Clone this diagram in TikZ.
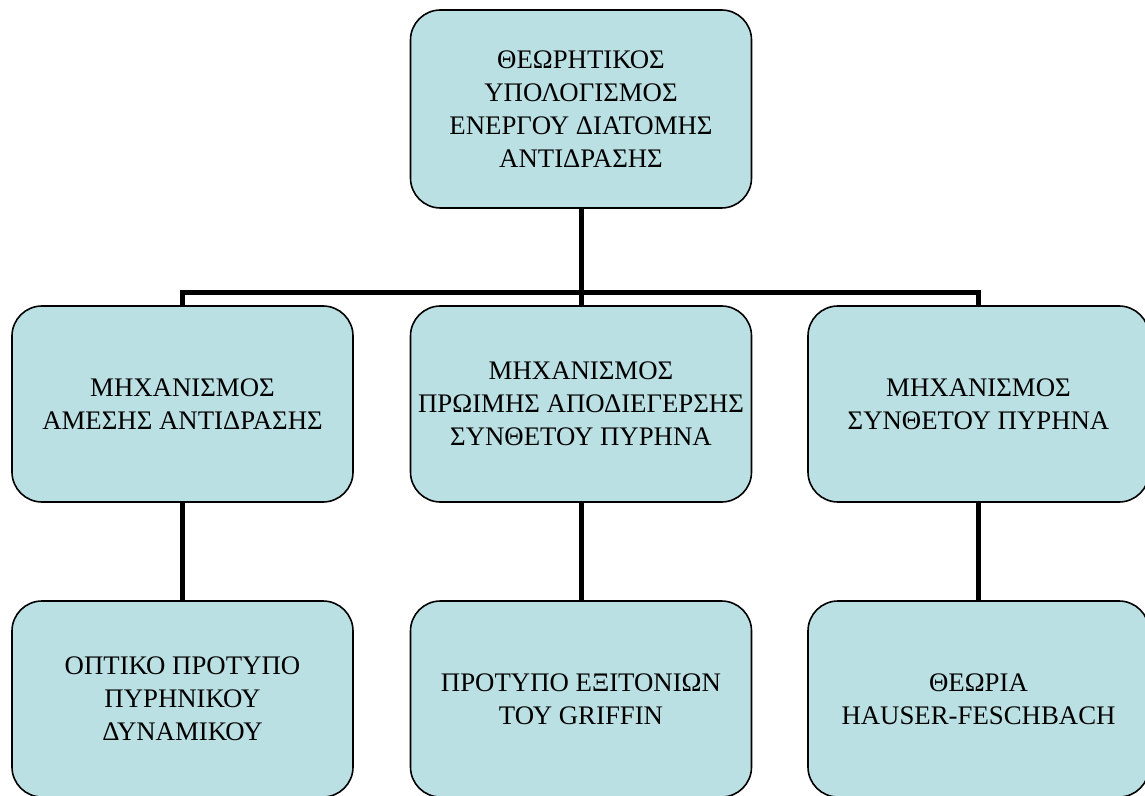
\documentclass[tikz,border=0pt]{standalone}
\usepackage{fontspec}
\setmainfont{Liberation Serif}
\definecolor{boxfill}{HTML}{BBE0E3}
\tikzset{
	orgbox/.style={draw=black, line width=0.8pt, fill=boxfill, rounded corners=15pt,
		minimum width=170.5pt, minimum height=98pt, inner sep=0pt, align=center,
		font=\fontsize{13.4}{16.5}\selectfont},
	link/.style={line width=2.5pt}
}
\begin{document}
\begin{tikzpicture}[x=0.5pt,y=-0.5pt]
	\useasboundingbox (0,0) rectangle (1145,796);
	\clip (0,0) rectangle (1145,796);
	
	%Top box
	\node [orgbox, minimum height=99pt] (theory) at (581,109) {ΘΕΩΡΗΤΙΚΟΣ\\ΥΠΟΛΟΓΙΣΜΟΣ\\ΕΝΕΡΓΟΥ ΔΙΑΤΟΜΗΣ\\ΑΝΤΙΔΡΑΣΗΣ};
	
	%Mechanisms
	\node [orgbox] (direct) at (182.5,404) {ΜΗΧΑΝΙΣΜΟΣ\\ΑΜΕΣΗΣ ΑΝΤΙΔΡΑΣΗΣ};
	\node [orgbox] (preeq) at (581,404) {ΜΗΧΑΝΙΣΜΟΣ\\ΠΡΩΙΜΗΣ ΑΠΟΔΙΕΓΕΡΣΗΣ\\ΣΥΝΘΕΤΟΥ ΠΥΡΗΝΑ};
	\node [orgbox] (compound) at (978.5,404) {ΜΗΧΑΝΙΣΜΟΣ\\ΣΥΝΘΕΤΟΥ ΠΥΡΗΝΑ};
	
	%Models
	\node [orgbox] (optical) at (182.5,699) {ΟΠΤΙΚΟ ΠΡΟΤΥΠΟ\\ΠΥΡΗΝΙΚΟΥ\\ΔΥΝΑΜΙΚΟΥ};
	\node [orgbox] (exciton) at (581,699) {ΠΡΟΤΥΠΟ ΕΞΙΤΟΝΙΩΝ\\ΤΟΥ GRIFFIN};
	\node [orgbox] (hauser) at (978.5,699) {ΘΕΩΡΙΑ\\HAUSER-FESCHBACH};
	
	%Connectors
	\coordinate (bar) at (581,292.5);
	\draw [link] (theory.south) -- (bar);
	\draw [link] (direct.north) |- (bar) -| (compound.north);
	\draw [link] (bar) -- (preeq.north);
	\draw [link] (direct.south) -- (optical.north);
	\draw [link] (preeq.south) -- (exciton.north);
	\draw [link] (compound.south) -- (hauser.north);
	
\end{tikzpicture}
\end{document}
